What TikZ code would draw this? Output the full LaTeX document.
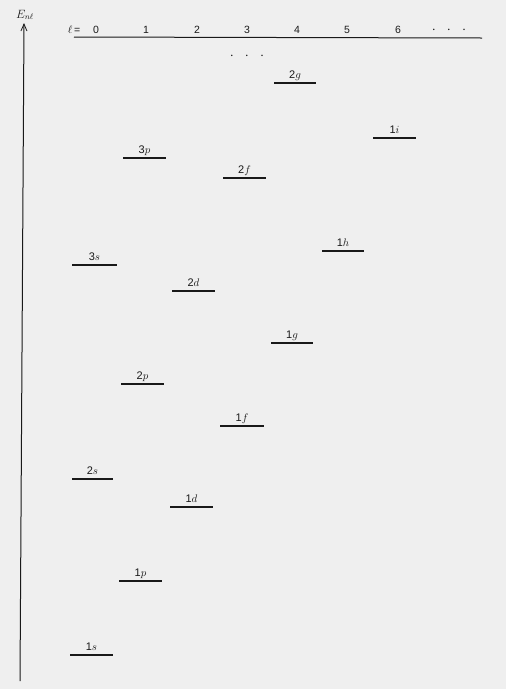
\documentclass[tikz,border=0pt]{standalone}
\usepackage{fontspec}
\newfontfamily\labsans{Liberation Sans}
\usetikzlibrary{arrows.meta}
\definecolor{bg}{RGB}{239,239,239}
\definecolor{ink}{RGB}{25,25,25}
\tikzset{
  level/.style={draw=ink,line width=1.6pt},
  lab/.style={text=ink,font=\fontsize{11}{13}\selectfont,inner sep=0pt,anchor=base},
  lnum/.style={text=ink,font=\labsans\fontsize{10.5}{13}\selectfont,inner sep=0pt,anchor=base},
  dotsty/.style={text=ink,font=\fontsize{14}{16}\selectfont,inner sep=0pt,anchor=base},
  axis/.style={draw=ink,line width=1pt},
}
\newcommand{\lev}[6]{%
  \coordinate (#1a) at (#2,#4);
  \coordinate (#1b) at (#3,#4);
  \draw[level] (#1a) -- (#1b);
  \node[lab] (#1t) at ({(#2+#3)/2},#4-5) {{\labsans #5}$#6$};
}
\begin{document}
\begin{tikzpicture}[x=1pt,y=-1pt]
\fill[bg] (0,0) rectangle (506,689);
\useasboundingbox (0,0) rectangle (506,689);
% energy axis
\coordinate (ax0) at (20,681);
\coordinate (ax1) at (24,23);
\draw[axis,-{Straight Barb[length=7pt,width=6pt,line width=0.8pt]}] (ax0) -- (ax1);
\node[text=ink,font=\fontsize{12}{14}\selectfont,inner sep=0pt,anchor=base] (E) at (25,18) {$E_{n\ell}$};
% l axis
\coordinate (h0) at (74,37);
\coordinate (h1) at (482,38);
\draw[draw=ink,line width=1pt] (h0) -- (h1);
\node[lnum] (leq) at (74,33) {$\ell$\,=};
\node[lnum] (l0) at (96,33) {0};
\node[lnum] (l1) at (146,33) {1};
\node[lnum] (l2) at (197,33) {2};
\node[lnum] (l3) at (247,33) {3};
\node[lnum] (l4) at (297,33) {4};
\node[lnum] (l5) at (347,33) {5};
\node[lnum] (l6) at (398,33) {6};
\node[dotsty] (ldots) at (449,33) {$\cdot\;\;\cdot\;\;\cdot$};
\node[dotsty] (vdots) at (247,59) {$\cdot\;\;\cdot\;\;\cdot$};
% levels
\lev{1s}{70}{113}{655}{1}{s}
\lev{1p}{119}{162}{581}{1}{p}
\lev{2s}{72}{113}{479}{2}{s}
\lev{1d}{170}{213}{507}{1}{d}
\lev{1f}{220}{264}{426}{1}{f}
\lev{2p}{121}{164}{384}{2}{p}
\lev{1g}{271}{313}{343}{1}{g}
\lev{2d}{172}{215}{291}{2}{d}
\lev{3s}{72}{117}{265}{3}{s}
\lev{1h}{322}{364}{251}{1}{h}
\lev{2f}{223}{266}{178}{2}{f}
\lev{3p}{123}{166}{158}{3}{p}
\lev{1i}{373}{416}{138}{1}{i}
\lev{2g}{274}{316}{83}{2}{g}
\end{tikzpicture}
\end{document}
